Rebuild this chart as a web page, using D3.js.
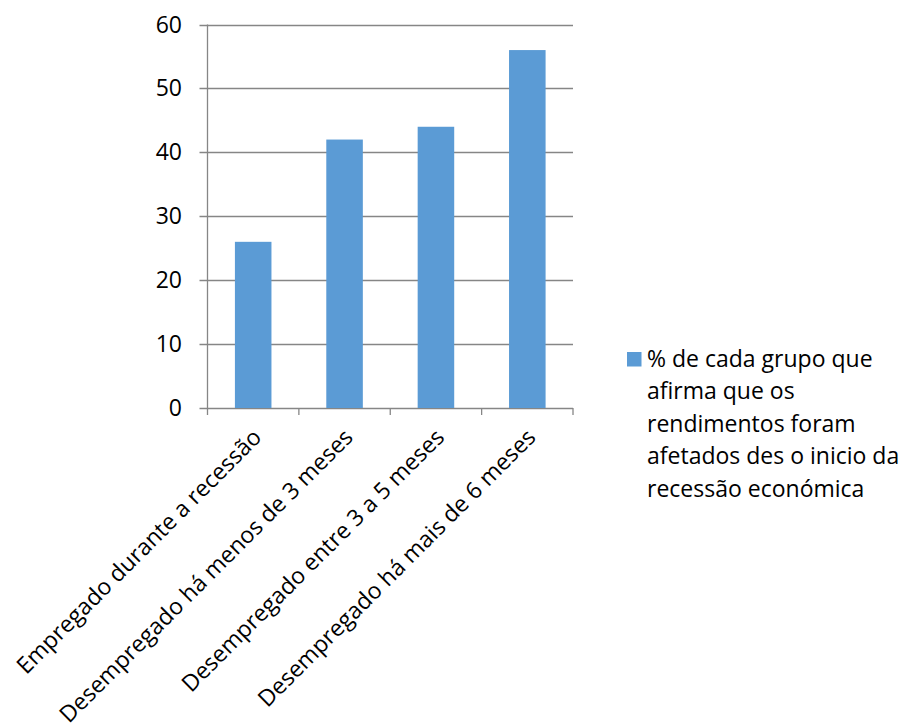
<!DOCTYPE html>
<html>
<head>
<meta charset="utf-8">
<script src="https://cdn.jsdelivr.net/npm/d3@7"></script>
<style>
  body { margin: 0; background: #fff; }
  svg text { font-family: "Open Sans", Lato, sans-serif; fill: #000; }
</style>
</head>
<body>
<svg id="chart" width="906" height="725"></svg>
<script>
const categories = [
  "Empregado durante a recessão",
  "Desempregado há menos de 3 meses",
  "Desempregado entre 3 a 5 meses",
  "Desempregado há mais de 6 meses"
];
const values = [26, 42, 44, 56];
const yTicks = [0, 10, 20, 30, 40, 50, 60];
const seriesName = [
  "% de cada grupo que",
  "afirma que os",
  "rendimentos foram",
  "afetados des o inicio da",
  "recessão económica"
];

const svg = d3.select("#chart");
const plot = { left: 207.5, right: 573, top: 24.5, bottom: 408 };
const gridColor = "#868686";
const barColor = "#5B9BD5";
const fontSize = "23px";

const x = d3.scaleBand().domain(categories).range([plot.left, plot.right]).paddingInner(0.6).paddingOuter(0.3);
const y = d3.scaleLinear().domain([0, 60]).range([plot.bottom, plot.top]);

// horizontal gridlines
svg.append("g").selectAll("line").data(yTicks).join("line")
  .attr("x1", plot.left - 8).attr("x2", plot.right)
  .attr("y1", d => Math.round(y(d)) + 0.5).attr("y2", d => Math.round(y(d)) + 0.5)
  .attr("stroke", gridColor).attr("stroke-width", 1.3);

// y axis line
svg.append("line")
  .attr("x1", plot.left).attr("x2", plot.left)
  .attr("y1", y(60)).attr("y2", plot.bottom + 7)
  .attr("stroke", gridColor).attr("stroke-width", 1.3);

// y tick labels
svg.append("g").selectAll("text").data(yTicks).join("text")
  .attr("x", 182).attr("y", d => y(d))
  .attr("dy", "0.35em")
  .attr("text-anchor", "end")
  .style("font-size", fontSize)
  .text(d => d);

// bars
svg.append("g").selectAll("rect").data(values).join("rect")
  .attr("x", (d, i) => x(categories[i]))
  .attr("width", x.bandwidth())
  .attr("y", d => y(d))
  .attr("height", d => y(0) - y(d))
  .attr("fill", barColor);

// category boundary ticks
const bounds = d3.range(categories.length + 1).map(i => plot.left + i * (plot.right - plot.left) / categories.length);
svg.append("g").selectAll("line").data(bounds.slice(1)).join("line")
  .attr("x1", d => d).attr("x2", d => d)
  .attr("y1", plot.bottom).attr("y2", plot.bottom + 7)
  .attr("stroke", gridColor).attr("stroke-width", 1.3);

// rotated category labels
svg.append("g").selectAll("text").data(categories).join("text")
  .attr("transform", d => `translate(${x(d) + x.bandwidth() / 2 + 4},${plot.bottom + 25}) rotate(-45)`)
  .attr("text-anchor", "end")
  .attr("dy", "0.35em")
  .style("font-size", fontSize)
  .text(d => d);

// legend
const legend = svg.append("g");
legend.append("rect")
  .attr("x", 627).attr("y", 352).attr("width", 14.5).attr("height", 14.5)
  .attr("fill", barColor);
legend.selectAll("text").data(seriesName).join("text")
  .attr("x", 647).attr("y", (d, i) => 366.5 + i * 32.6)
  .style("font-size", fontSize)
  .text(d => d);
</script>
</body>
</html>
